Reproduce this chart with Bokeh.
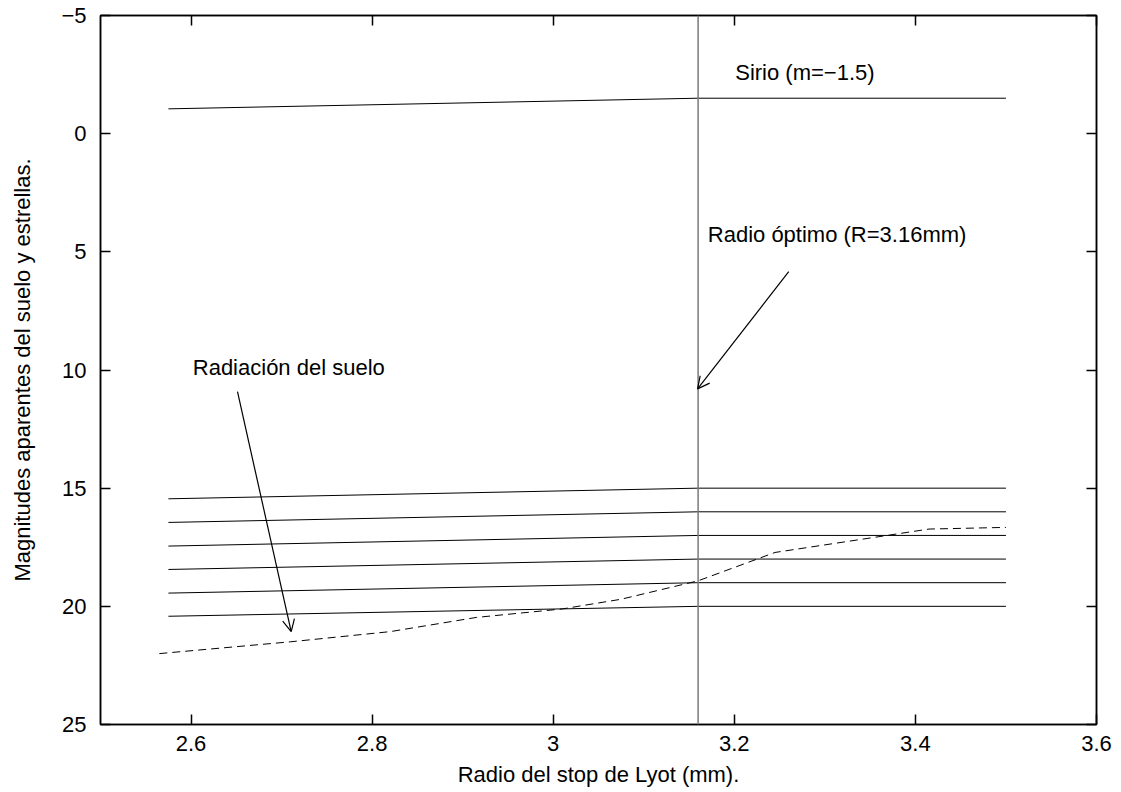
from bokeh.plotting import figure
from bokeh.models import (Range1d, FixedTicker, LinearAxis, CustomJSTickFormatter,
                          Span, Label, Arrow, OpenHead)
from bokeh.embed import file_html
from bokeh.resources import INLINE

FONT = "Liberation Sans"
FS = "22px"

# ---- data -------------------------------------------------------------
radio = [2.575, 3.16, 3.5]
sirio = [-1.05, -1.5, -1.5]
estrella_15 = [15.45, 15.0, 15.0]
estrella_16 = [16.45, 16.0, 16.0]
estrella_17 = [17.45, 17.0, 17.0]
estrella_18 = [18.44, 18.0, 18.0]
estrella_19 = [19.44, 19.0, 19.0]
estrella_20 = [20.42, 20.0, 20.0]

radio_suelo = [2.565, 2.71, 2.82, 2.915, 3.01, 3.075, 3.16, 3.245, 3.415, 3.5]
suelo = [22.0, 21.5, 21.07, 20.47, 20.11, 19.7, 18.92, 17.72, 16.73, 16.66]

radio_optimo = 3.16

x_ticks = [2.6, 2.8, 3.0, 3.2, 3.4, 3.6]
y_ticks = [-5, 0, 5, 10, 15, 20, 25]

# annotations (data coordinates)
label_sirio = ("Sirio (m=\u22121.5)", 3.201, -2.6)
label_optimo = ("Radio \u00f3ptimo (R=3.16mm)", 3.1707, 4.25)
label_suelo = ("Radiaci\u00f3n del suelo", 2.6019, 9.89)
arrow_optimo = (3.2601, 5.84, 3.1594, 10.80)
arrow_suelo = (2.6513, 10.92, 2.7106, 21.07)

# ---- figure -----------------------------------------------------------
p = figure(width=1121, height=792, output_backend="svg", toolbar_location=None,
           x_range=Range1d(2.5, 3.6), y_range=Range1d(25, -5),
           min_border_left=100, min_border_right=25, min_border_top=15,
           min_border_bottom=68, x_axis_label="Radio del stop de Lyot (mm).",
           y_axis_label="Magnitudes aparentes del suelo y estrellas.")
p.background_fill_color = "white"
p.border_fill_color = "white"
p.grid.visible = False
p.outline_line_color = "black"
p.outline_line_width = 1.5

bottom = p.below[0]
left = p.left[0]

xfmt = CustomJSTickFormatter(code="return String(Math.round(tick*10)/10);")
yfmt = CustomJSTickFormatter(code="return tick < 0 ? '\u2212' + String(-tick) : String(tick);")

top = LinearAxis()
right = LinearAxis()
p.add_layout(top, "above")
p.add_layout(right, "right")

for ax in [bottom, top]:
    ax.ticker = FixedTicker(ticks=x_ticks)
    ax.formatter = xfmt
for ax in [left, right]:
    ax.ticker = FixedTicker(ticks=y_ticks)
    ax.formatter = yfmt

for ax in [bottom, left, top, right]:
    ax.major_tick_in = 10
    ax.major_tick_out = 0
    ax.minor_tick_line_color = None
    ax.axis_line_color = "black"
    ax.axis_line_width = 1.5
    ax.major_tick_line_color = "black"
    ax.major_tick_line_width = 1.5
    ax.major_label_text_font = FONT
    ax.major_label_text_font_size = FS
    ax.major_label_text_color = "black"
    ax.axis_label_text_font = FONT
    ax.axis_label_text_font_size = FS
    ax.axis_label_text_font_style = "normal"
    ax.axis_label_text_color = "black"

for ax in [top, right]:
    ax.major_label_text_font_size = "0px"
    ax.major_label_text_color = None
    ax.major_label_standoff = 0

bottom.major_label_standoff = 11
bottom.axis_label_standoff = 8
left.major_label_standoff = 14
left.axis_label_standoff = 23

# ---- series -----------------------------------------------------------
p.line(radio, sirio, line_color="black", line_width=1)
for serie in [estrella_15, estrella_16, estrella_17, estrella_18, estrella_19, estrella_20]:
    p.line(radio, serie, line_color="black", line_width=1)
p.line(radio_suelo, suelo, line_color="black", line_width=1, line_dash="8 5")

p.add_layout(Span(location=radio_optimo, dimension="height",
                  line_color="#7a7a7a", line_width=1.5))

for txt, lx, ly in [label_sirio, label_optimo, label_suelo]:
    p.add_layout(Label(x=lx, y=ly, text=txt, text_font=FONT, text_font_size=FS,
                       text_color="black", text_baseline="alphabetic", text_align="left"))

for xs, ys, xe, ye in [arrow_optimo, arrow_suelo]:
    p.add_layout(Arrow(end=OpenHead(size=12, line_width=1.2, line_color="black"),
                       x_start=xs, y_start=ys, x_end=xe, y_end=ye,
                       line_color="black", line_width=1.2))

open("out.html", "w", encoding="utf-8").write(file_html(p, INLINE))
